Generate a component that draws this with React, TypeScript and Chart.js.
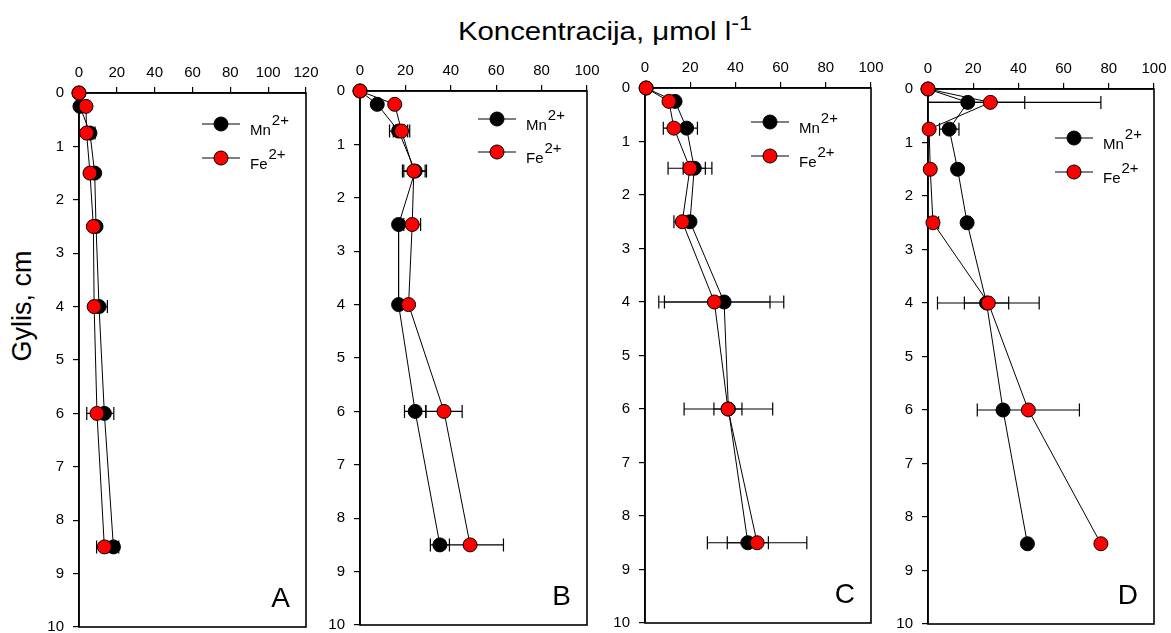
import React, { useEffect, useRef } from "react";
import { Chart, registerables } from "chart.js";
Chart.register(...registerables);

const FONT = "'Liberation Sans', Arial, sans-serif";

// depth (cm)
const depths = [0, 0.25, 0.75, 1.5, 2.5, 4, 6, 8.5];
const yTickStep = 1;
const xTickStep = 20;
const seriesLabels = ["Mn", "Fe"];
const seriesCharge = "2+";
const panelLetters = ["A", "B", "C", "D"];
const xMaxes = [120, 100, 100, 100];

// Panel A
const mnA = [0, 0.5, 5.8, 8.3, 9, 10.6, 13.4, 18.2];
const feA = [0, 3.7, 4, 5.8, 7.6, 8, 9.5, 13.4];
const mnErrA = [0, 0.5, 2.7, 1, 1, 4.4, 5, 2.8];
const feErrA = [0, 0.5, 1, 1, 1, 1, 5.4, 4.1];
// Panel B
const mnB = [0, 7.6, 17, 24.3, 17, 17, 24.3, 35.2];
const feB = [0, 15.3, 18.3, 23.7, 23, 21.4, 37, 48.5];
const mnErrB = [0, 1, 4, 5, 1, 1, 4.7, 4.2];
const feErrB = [0, 1, 3.6, 5, 3.7, 1, 8, 14.7];
// Panel C
const mnC = [0.5, 13.3, 18.4, 21.8, 19.9, 35, 36.9, 45.5];
const feC = [0.5, 10.6, 12.8, 19.9, 16.5, 30.7, 36.7, 49.6];
const mnErrC = [0, 1, 4.8, 4.9, 1.5, 26.4, 19.6, 9.1];
const feErrC = [0, 1, 4.7, 9.7, 3.7, 24.6, 6.2, 22];
// Panel D
const mnD = [0, 17.6, 9.4, 13.1, 17.3, 25.9, 33.2, 44];
const feD = [0, 27.6, 0.5, 1, 2.2, 26.7, 44.4, 76.5];
const mnErrD = [0, 25.2, 4.3, 1, 1, 9.8, 1, 0];
const feErrD = [0, 48.9, 0.5, 0.5, 2.5, 22.5, 22.6, 0];

const mnValues = [mnA, mnB, mnC, mnD];
const feValues = [feA, feB, feC, feD];
const mnErrors = [mnErrA, mnErrB, mnErrC, mnErrD];
const feErrors = [feErrA, feErrB, feErrC, feErrD];

// layout (pixel boxes of each plot area, legend offsets)
const plotBoxes = [
  { l: 79, t: 93, r: 306, b: 627 },
  { l: 360, t: 91, r: 587, b: 625 },
  { l: 645, t: 88, r: 871, b: 623 },
  { l: 928, t: 89, r: 1154, b: 624 },
];
const legendPos = [
  { dx: 104, dy: 31, gap: 34 },
  { dx: 109, dy: 28, gap: 33 },
  { dx: 120, dy: 34, gap: 34 },
  { dx: 99, dy: 49, gap: 34 },
];

const Y_W = 44;
const X_H = 34;
const PAD_R = 18;
const PAD_B = 12;

function Panel({ idx }: { idx: number }) {
  const ref = useRef<HTMLCanvasElement | null>(null);
  const box = plotBoxes[idx];
  const w = box.r - box.l + Y_W + PAD_R;
  const h = box.b - box.t + X_H + PAD_B;

  useEffect(() => {
    const canvas = ref.current;
    if (!canvas) return;
    const mn = mnValues[idx];
    const fe = feValues[idx];
    const errs = [mnErrors[idx], feErrors[idx]];
    const vals = [mn, fe];
    const lg = legendPos[idx];

    const decor = {
      id: "decor" + idx,
      beforeDatasetsDraw(chart: any) {
        const { ctx, chartArea } = chart;
        const xs = chart.scales.x;
        const ys = chart.scales.y;
        ctx.save();
        ctx.strokeStyle = "#000";
        ctx.lineWidth = 1.6;
        ctx.strokeRect(chartArea.left, chartArea.top, chartArea.right - chartArea.left, chartArea.bottom - chartArea.top);
        ctx.beginPath();
        ctx.rect(chartArea.left, chartArea.top - 20, chartArea.right - chartArea.left, chartArea.bottom - chartArea.top + 40);
        ctx.clip();
        ctx.lineWidth = 1.2;
        for (let s = 0; s < 2; s++) {
          for (let i = 0; i < depths.length; i++) {
            const e = errs[s][i];
            if (!e) continue;
            const y = ys.getPixelForValue(depths[i]);
            const x1 = xs.getPixelForValue(vals[s][i] - e);
            const x2 = xs.getPixelForValue(vals[s][i] + e);
            ctx.beginPath();
            ctx.moveTo(x1, y);
            ctx.lineTo(x2, y);
            ctx.moveTo(x1, y - 6.5);
            ctx.lineTo(x1, y + 6.5);
            ctx.moveTo(x2, y - 6.5);
            ctx.lineTo(x2, y + 6.5);
            ctx.stroke();
          }
        }
        ctx.restore();
      },
      afterDraw(chart: any) {
        const { ctx, chartArea } = chart;
        ctx.save();
        // legend
        const x0 = chartArea.right - lg.dx;
        for (let s = 0; s < 2; s++) {
          const y = chartArea.top + lg.dy + s * lg.gap;
          ctx.strokeStyle = "#000";
          ctx.lineWidth = 1;
          ctx.beginPath();
          ctx.moveTo(x0, y);
          ctx.lineTo(x0 + 38, y);
          ctx.stroke();
          ctx.beginPath();
          ctx.arc(x0 + 19, y, 7, 0, Math.PI * 2);
          ctx.fillStyle = s === 0 ? "#000" : "#ff0000";
          ctx.fill();
          ctx.stroke();
          ctx.fillStyle = "#000";
          ctx.font = `15px ${FONT}`;
          ctx.textAlign = "left";
          ctx.textBaseline = "alphabetic";
          const tx = x0 + 48;
          ctx.fillText(seriesLabels[s], tx, y + 11);
          const tw = ctx.measureText(seriesLabels[s]).width;
          ctx.fillText(seriesCharge, tx + tw + 1, y + 1);
        }
        // panel letter
        ctx.font = `28px ${FONT}`;
        ctx.textAlign = "right";
        ctx.fillStyle = "#000";
        ctx.fillText(panelLetters[idx], chartArea.right - 16, chartArea.bottom - 20);
        ctx.restore();
      },
    };

    const tickFont = { family: FONT, size: 15 };
    const chart = new Chart(canvas, {
      type: "scatter",
      data: {
        datasets: [
          {
            label: seriesLabels[1],
            data: depths.map((d, i) => ({ x: fe[i], y: d })),
            showLine: true,
            borderColor: "#000",
            borderWidth: 1,
            pointRadius: 7,
            pointBackgroundColor: "#ff0000",
            pointBorderColor: "#000",
            pointBorderWidth: 1,
            order: 0,
            clip: false as any,
          },
          {
            label: seriesLabels[0],
            data: depths.map((d, i) => ({ x: mn[i], y: d })),
            showLine: true,
            borderColor: "#000",
            borderWidth: 1,
            pointRadius: 7,
            pointBackgroundColor: "#000",
            pointBorderColor: "#000",
            pointBorderWidth: 1,
            order: 1,
            clip: false as any,
          },
        ],
      },
      options: {
        animation: false,
        responsive: false,
        maintainAspectRatio: false,
        events: [],
        layout: { padding: { left: 0, top: 0, right: PAD_R, bottom: PAD_B } },
        plugins: { legend: { display: false }, tooltip: { enabled: false } },
        scales: {
          x: {
            type: "linear",
            position: "top",
            min: 0,
            max: xMaxes[idx],
            ticks: { stepSize: xTickStep, font: tickFont, color: "#000", padding: 5 },
            grid: { drawOnChartArea: false, drawTicks: true, tickLength: 6, color: "#000", lineWidth: 1.2 },
            border: { display: true, color: "#000", width: 1.6 },
            afterFit: (s: any) => {
              s.height = X_H;
              s.paddingLeft = 0;
              s.paddingRight = 0;
            },
          },
          y: {
            type: "linear",
            position: "left",
            reverse: true,
            min: 0,
            max: 10,
            ticks: { stepSize: yTickStep, font: tickFont, color: "#000", padding: 9 },
            grid: { drawOnChartArea: false, drawTicks: true, tickLength: 6, color: "#000", lineWidth: 1.2 },
            border: { display: true, color: "#000", width: 1.6 },
            afterFit: (s: any) => {
              s.width = Y_W;
              s.paddingTop = 0;
              s.paddingBottom = 0;
            },
          },
        },
      } as any,
      plugins: [decor],
    });
    return () => chart.destroy();
  }, [idx]);

  return (
    <canvas
      ref={ref}
      width={w}
      height={h}
      style={{
        position: "absolute",
        left: box.l - Y_W,
        top: box.t - X_H,
        width: w,
        height: h,
      }}
    />
  );
}

export default function App() {
  return (
    <div
      style={{
        position: "absolute",
        left: 0,
        top: 0,
        width: 1171,
        height: 633,
        background: "#fff",
        overflow: "hidden",
        fontFamily: FONT,
      }}
    >
      <div
        style={{
          position: "absolute",
          left: 405,
          width: 400,
          top: 18,
          textAlign: "center",
          fontSize: 26,
          lineHeight: "26px",
          whiteSpace: "nowrap",
          color: "#000",
          transform: "scaleX(1.13)",
          transformOrigin: "50% 50%",
        }}
      >
        Koncentracija, μmol l<sup style={{ fontSize: "0.8em", verticalAlign: "0.5em", lineHeight: 0 }}>-1</sup>
      </div>
      <div
        style={{
          position: "absolute",
          left: 22 - 100,
          top: 306 - 13,
          width: 200,
          height: 26,
          lineHeight: "26px",
          textAlign: "center",
          fontSize: 27,
          transform: "rotate(-90deg)",
          transformOrigin: "50% 50%",
          whiteSpace: "nowrap",
          color: "#000",
        }}
      >
        Gylis, cm
      </div>
      {panelLetters.map((_, i) => (
        <Panel key={i} idx={i} />
      ))}
    </div>
  );
}
